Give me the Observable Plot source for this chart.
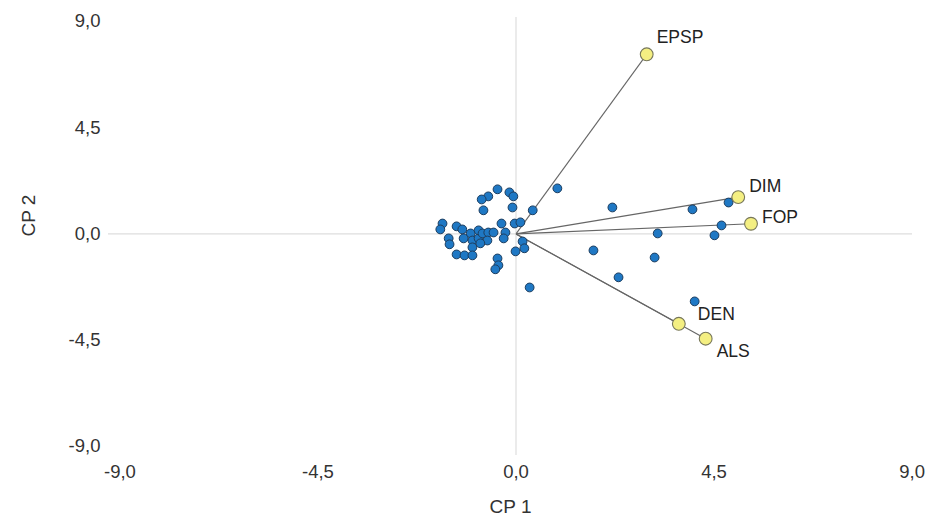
<!DOCTYPE html>
<html>
<head>
<meta charset="utf-8">
<script src="https://cdn.jsdelivr.net/npm/d3@7"></script>
<script src="https://cdn.jsdelivr.net/npm/@observablehq/plot@0.6"></script>
<style>
  html, body { margin: 0; padding: 0; background: #fff; }
  #chart { width: 928px; height: 521px; }
  #chart g[aria-label$="tick label"], #chart g[aria-label$="tick label"] text { font-size: 18.5px !important; }
</style>
</head>
<body>
<div id="chart"></div>
<script>
// Scores (blue points)
const scoreX = [-1.67,-1.72,-1.35,-1.22,-1.03,-1.19,-0.99,-1.53,-1.51,-0.99,-0.85,-1.35,-1.17,-0.99,-0.85,
  -0.42,-0.15,-0.06,-0.63,-0.78,-0.74,-0.08,0.38,-0.33,-0.24,-0.03,0.10,-0.28,-0.76,-0.63,-0.51,-0.65,-0.81,
  0.15,0.19,-0.01,-0.42,-0.40,-0.47,0.31,0.94,
  2.19,4.01,4.83,4.67,4.51,3.22,1.76,3.15,2.33,4.06];
const scoreY = [0.44,0.19,0.32,0.19,0.02,-0.19,-0.28,-0.19,-0.44,-0.57,-0.19,-0.87,-0.91,-0.91,0.15,
  1.89,1.76,1.59,1.59,1.46,1.00,1.12,1.00,0.44,0.06,0.44,0.49,-0.19,0.02,0.06,0.06,-0.28,-0.40,
  -0.32,-0.61,-0.74,-1.04,-1.33,-1.50,-2.27,1.93,
  1.12,1.04,1.33,0.36,-0.06,0.02,-0.70,-1.00,-1.84,-2.86];

// Loadings (yellow points)
const loadNames = ["EPSP","DIM","FOP","DEN","ALS"];
const loadX = [2.97, 5.05, 5.34, 3.70, 4.31];
const loadY = [7.61, 1.56, 0.43, -3.81, -4.44];

const ticks = [-9, -4.5, 0, 4.5, 9];
const xLabel = "CP 1";
const yLabel = "CP 2";

const scores = scoreX.map((x, i) => ({x, y: scoreY[i]}));
const loads = loadNames.map((name, i) => ({name, x: loadX[i], y: loadY[i]}));
const fmt = d => d.toFixed(1).replace(".", ",");

const labelOffsets = {EPSP: [10, -17], DIM: [11, -11], FOP: [11, -6], DEN: [19, -9], ALS: [11, 13]};
const labelMarks = loadNames.map(n => Plot.text(loads.filter(d => d.name === n), {
  x: "x", y: "y", text: "name", textAnchor: "start",
  dx: labelOffsets[n][0], dy: labelOffsets[n][1],
  fontSize: 17.5, fill: "#222"
}));

const chart = Plot.plot({
  width: 928,
  height: 521,
  marginLeft: 108,
  marginRight: 16,
  marginTop: 17,
  marginBottom: 66,
  style: {fontFamily: "'Liberation Sans', Arial, sans-serif", fontSize: "18.5px", background: "#fff"},
  x: {domain: [-9.26, 9.01]},
  y: {domain: [-9.39, 9.17]},
  marks: [
    Plot.ruleY([0], {stroke: "#dedede", strokeWidth: 1.2}),
    Plot.ruleX([0], {stroke: "#dedede", strokeWidth: 1.2}),
    Plot.axisX({ticks, tickFormat: fmt, tickSize: 0, tickPadding: 9, label: null, fontSize: 18.5, color: "#333"}),
    Plot.axisY({ticks, tickFormat: fmt, tickSize: 0, tickPadding: 8, label: null, fontSize: 18.5, color: "#333"}),
    Plot.link(loads, {x1: 0, y1: 0, x2: "x", y2: "y", stroke: "#666", strokeWidth: 1.1}),
    Plot.dot(scores, {x: "x", y: "y", r: 4.4, fill: "#1f78c4", stroke: "#1d3d5e", strokeWidth: 1}),
    Plot.dot(loads, {x: "x", y: "y", r: 6.4, fill: "#f4ef82", stroke: "#77775a", strokeWidth: 1.1}),
    ...labelMarks,
    Plot.text([xLabel], {frameAnchor: "bottom", dy: 57, fontSize: 19, fill: "#333"}),
    Plot.text([yLabel], {frameAnchor: "left", dx: -80, rotate: -90, fontSize: 19, fill: "#333"})
  ]
});
document.getElementById("chart").appendChild(chart);
</script>
</body>
</html>
